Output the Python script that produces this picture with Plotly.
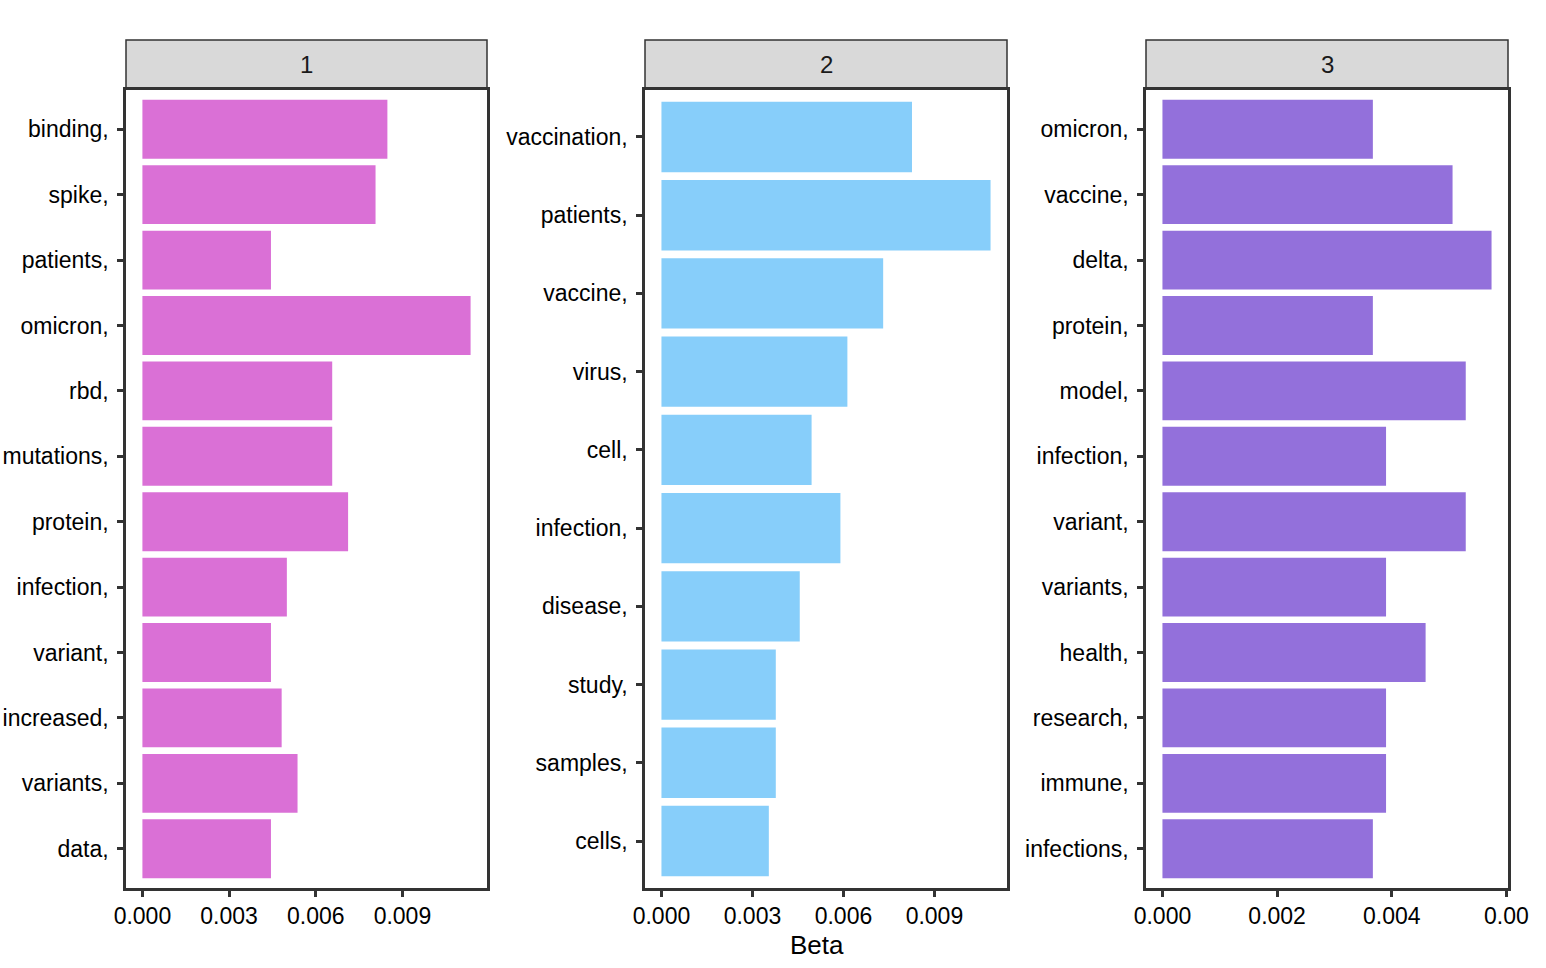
import plotly.graph_objects as go

W, H = 1546, 968

# ---- data ----
topic1_terms = ["binding", "spike", "patients", "omicron", "rbd", "mutations",
                "protein", "infection", "variant", "increased", "variants", "data"]
topic1_beta = [0.00848, 0.00807, 0.00445, 0.01136, 0.00657, 0.00657,
               0.00712, 0.00500, 0.00445, 0.00482, 0.00537, 0.00445]

topic2_terms = ["vaccination", "patients", "vaccine", "virus", "cell",
                "infection", "disease", "study", "samples", "cells"]
topic2_beta = [0.00826, 0.01085, 0.00731, 0.00613, 0.00495,
               0.00590, 0.00456, 0.00377, 0.00377, 0.00354]

topic3_terms = ["omicron", "vaccine", "delta", "protein", "model", "infection",
                "variant", "variants", "health", "research", "immune", "infections"]
topic3_beta = [0.00367, 0.00506, 0.00574, 0.00367, 0.00529, 0.00390,
               0.00529, 0.00390, 0.00459, 0.00390, 0.00390, 0.00367]

panel_labels = ["1", "2", "3"]
tick_vals = [[0, 0.003, 0.006, 0.009], [0, 0.003, 0.006, 0.009], [0, 0.002, 0.004, 0.006]]
tick_text = [["0.000", "0.003", "0.006", "0.009"],
             ["0.000", "0.003", "0.006", "0.009"],
             ["0.000", "0.002", "0.004", "0.00"]]
colors = ["#DA70D6", "#87CEFA", "#9370DB"]
x_title = "Beta"

panels = [(topic1_terms, topic1_beta), (topic2_terms, topic2_beta), (topic3_terms, topic3_beta)]

# ---- layout geometry (page pixels) ----
px_x = [(126, 487), (645, 1007), (1146, 1508)]
plot_top, plot_bot = 90, 888
strip_top, strip_bot = 40, 88


def fx(px):
    return px / W


def fy(py):
    return (H - py) / H


FONT = "Liberation Sans, Arial, sans-serif"
BORDER = "#333333"
TICKSIZE = 23

fig = go.Figure()
layout = dict(
    width=W, height=H,
    margin=dict(l=0, r=0, t=0, b=0, autoexpand=False),
    paper_bgcolor="white", plot_bgcolor="white",
    showlegend=False,
    font=dict(family=FONT, size=TICKSIZE, color="#000000"),
    bargap=0.1,
)
shapes = []
annotations = []

for i, ((terms, vals), (x0, x1)) in enumerate(zip(panels, px_x)):
    n = i + 1
    xa = "x" if n == 1 else f"x{n}"
    ya = "y" if n == 1 else f"y{n}"
    labels = [t + "," for t in terms]
    fig.add_trace(go.Bar(
        x=vals, y=labels, orientation="h",
        marker=dict(color=colors[i], line=dict(width=0)),
        width=0.9, xaxis=xa, yaxis=ya, hoverinfo="x+y",
    ))
    m = max(vals)
    dom_x = [fx(x0), fx(x1)]
    dom_y = [fy(plot_bot), fy(plot_top)]
    layout["xaxis" if n == 1 else f"xaxis{n}"] = dict(
        domain=dom_x, anchor=ya, range=[-0.05 * m, 1.05 * m],
        tickvals=tick_vals[i], ticktext=tick_text[i],
        showgrid=False, zeroline=False, automargin=False,
        showline=True, linecolor=BORDER, linewidth=2.5, mirror=True,
        ticks="outside", ticklen=6, tickwidth=2.5, tickcolor=BORDER,
        tickfont=dict(size=TICKSIZE, color="#000000", family=FONT),
        fixedrange=True,
    )
    layout["yaxis" if n == 1 else f"yaxis{n}"] = dict(
        domain=dom_y, anchor=xa, type="category",
        categoryorder="array", categoryarray=labels,
        range=[len(labels) - 0.4, -0.6],
        showgrid=False, zeroline=False, automargin=False,
        showline=True, linecolor=BORDER, linewidth=2.5, mirror=True,
        ticks="outside", ticklen=6, tickwidth=2.5, tickcolor=BORDER,
        tickfont=dict(size=TICKSIZE, color="#000000", family=FONT),
        ticklabelstandoff=4,
        fixedrange=True,
    )
    # strip
    shapes.append(dict(
        type="rect", xref="paper", yref="paper",
        x0=fx(x0), x1=fx(x1), y0=fy(strip_bot), y1=fy(strip_top),
        fillcolor="#D9D9D9", line=dict(color=BORDER, width=1.5), layer="below",
    ))
    annotations.append(dict(
        text=panel_labels[i], xref="paper", yref="paper",
        x=fx((x0 + x1) / 2), y=fy((strip_top + strip_bot) / 2),
        xanchor="center", yanchor="middle", showarrow=False,
        font=dict(size=24, color="#1A1A1A", family=FONT),
    ))

annotations.append(dict(
    text=x_title, xref="paper", yref="paper",
    x=fx(817), y=fy(945), xanchor="center", yanchor="middle",
    showarrow=False, font=dict(size=26, color="#000000", family=FONT),
))

layout["shapes"] = shapes
layout["annotations"] = annotations
fig.update_layout(**layout)
fig.write_html(
    "out.html",
    config={"displayModeBar": False},
    post_script="document.body.style.margin='0';document.body.style.overflow='hidden';",
)
